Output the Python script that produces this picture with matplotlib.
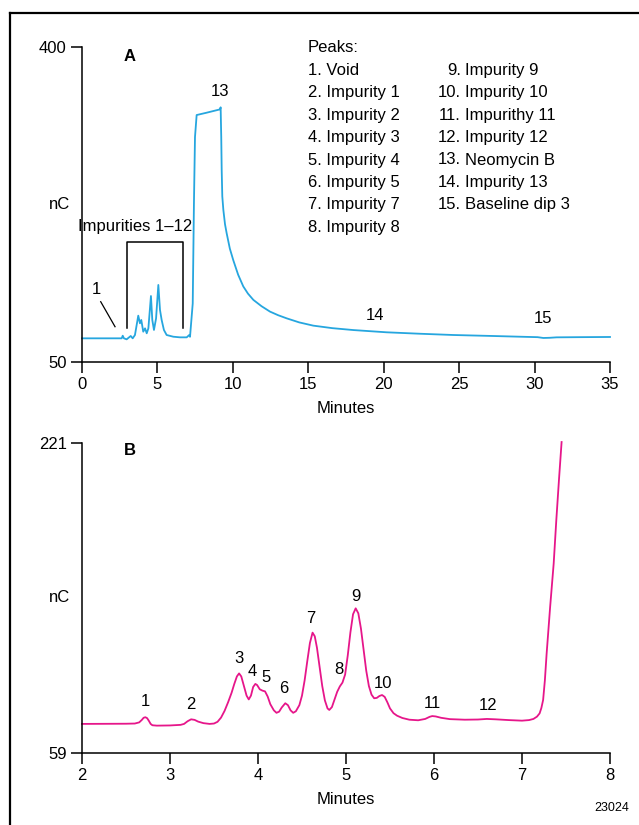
import matplotlib
matplotlib.use("Agg")
import matplotlib.pyplot as plt
from matplotlib.lines import Line2D

plt.rcParams['font.family'] = ['Liberation Sans Narrow', 'Liberation Sans', 'DejaVu Sans']

# ---------------- data: panel A (full run) ----------------
a_time = [0.0, 2.63, 2.70, 2.78, 2.96, 3.23, 3.36, 3.51, 3.73, 3.84, 3.93, 4.06, 4.18, 4.29,
          4.40, 4.57, 4.66, 4.77, 4.91, 5.06, 5.17, 5.28, 5.43, 5.61, 6.05, 6.50, 6.94, 7.11,
          7.16, 7.34, 7.42, 7.49, 7.60, 8.26, 9.15, 9.19, 9.23, 9.26, 9.30, 9.37, 9.48, 9.59,
          9.80, 10.03, 10.35, 10.69, 11.0, 11.36, 11.9, 12.46, 13.0, 13.57, 14.4, 15.33, 16.6,
          17.98, 20.19, 22.4, 24.61, 27.0, 29.03, 30.20, 30.58, 31.00, 31.46, 33.0, 35.0]
a_signal = [76.3, 76.3, 79.2, 76.3, 75.2, 78.9, 76.3, 80.0, 101.5, 93.0, 96.7, 83.7, 87.4, 81.9,
            87.4, 123.3, 96.7, 85.6, 98.5, 135.6, 107.8, 96.7, 85.6, 80.0, 78.1, 77.4, 77.4, 80.0,
            78.0, 115.0, 226.0, 300.0, 324.4, 327.0, 330.7, 333.0, 300.0, 263.0, 234.0, 219.0, 203.0, 193.0,
            176.0, 163.0, 147.0, 134.0, 126.0, 119.0, 112.0, 106.0, 102.0, 98.5, 94.0, 90.4, 87.6,
            85.5, 83.0, 81.4, 80.0, 79.0, 78.1, 77.6, 76.7, 76.9, 77.4, 77.6, 77.8]

# ---------------- data: panel B (expanded 2-8 min) ----------------
b_time = [2.0, 2.5, 2.60, 2.65, 2.68, 2.70, 2.72, 2.74, 2.76, 2.78, 2.80, 2.85, 3.0, 3.12,
          3.16, 3.20, 3.24, 3.28, 3.32, 3.38, 3.45, 3.50, 3.54, 3.58, 3.62, 3.66, 3.70, 3.73,
          3.76, 3.785, 3.81, 3.84, 3.87, 3.895, 3.92, 3.945, 3.97, 3.99, 4.02, 4.05, 4.08, 4.11,
          4.14, 4.18, 4.21, 4.24, 4.27, 4.31, 4.34, 4.37, 4.40, 4.43, 4.47, 4.50, 4.53, 4.56,
          4.59, 4.62, 4.645, 4.67, 4.70, 4.73, 4.76, 4.79, 4.81, 4.84, 4.87, 4.90, 4.93, 4.96,
          4.99, 5.02, 5.05, 5.08, 5.11, 5.14, 5.17, 5.20, 5.23, 5.26, 5.29, 5.32, 5.35, 5.38,
          5.41, 5.44, 5.47, 5.50, 5.54, 5.58, 5.64, 5.72, 5.82, 5.90, 5.95, 5.98, 6.02, 6.08,
          6.18, 6.35, 6.50, 6.60, 6.70, 6.85, 7.00, 7.08, 7.13, 7.17, 7.20, 7.22, 7.24, 7.26,
          7.28, 7.32, 7.36, 7.39, 7.42, 7.45]
b_signal = [74.2, 74.3, 74.4, 75.0, 76.3, 77.4, 77.7, 77.2, 75.8, 74.2, 73.5, 73.3, 73.4, 73.7,
            74.2, 75.6, 76.6, 76.3, 75.4, 74.6, 74.2, 74.4, 75.3, 77.5, 81.0, 85.5, 90.5, 95.0,
            99.0, 100.6, 99.0, 94.0, 89.0, 87.0, 89.0, 93.5, 95.1, 94.5, 92.3, 91.6, 91.2, 88.5,
            84.5, 81.3, 80.0, 80.6, 82.8, 85.0, 84.0, 81.3, 80.0, 80.8, 84.0, 89.0, 97.0, 107.0,
            116.5, 121.9, 120.0, 114.0, 104.0, 94.0, 86.5, 82.3, 81.5, 83.0, 87.0, 91.0, 93.8, 95.8,
            100.0, 110.0, 122.0, 131.5, 134.6, 132.0, 124.0, 113.0, 102.0, 94.0, 89.5, 87.6, 87.8, 88.8,
            89.3, 88.3, 85.5, 82.3, 79.8, 78.5, 77.3, 76.4, 76.1, 76.8, 77.9, 78.3, 78.1, 77.4,
            76.7, 76.4, 76.5, 76.8, 76.6, 76.2, 75.9, 76.2, 76.8, 78.0, 79.7, 82.5, 86.7, 97.0,
            111.0, 135.5, 158.0, 180.8, 201.7, 221.5]

# ---------------- labels ----------------
a_xticks = [0, 5, 10, 15, 20, 25, 30, 35]
a_yticks = [50, 400]
b_xticks = [2, 3, 4, 5, 6, 7, 8]
b_yticks = [59, 221]

a_peak_labels = ["1", "13", "14", "15"]
a_peak_pos = [(0.93, 130), (9.15, 351), (19.42, 102), (30.56, 98)]

b_peak_labels = ["1", "2", "3", "4", "5", "6", "7", "8", "9", "10", "11", "12"]
b_peak_pos = [(2.716, 85.8), (3.239, 84.6), (3.784, 108.5), (3.94, 101.5), (4.09, 98.6),
              (4.295, 92.8), (4.60, 129.4), (4.92, 102.4), (5.11, 140.7), (5.42, 95.4),
              (5.98, 85.1), (6.61, 83.6)]

legend_col1 = ["Peaks:", "1. Void", "2. Impurity 1", "3. Impurity 2", "4. Impurity 3",
               "5. Impurity 4", "6. Impurity 5", "7. Impurity 7", "8. Impurity 8"]
legend_col2_num = ["9.", "10.", "11.", "12.", "13.", "14.", "15."]
legend_col2_name = ["Impurity 9", "Impurity 10", "Impurithy 11", "Impurity 12",
                    "Neomycin B", "Impurity 13", "Baseline dip 3"]

BLUE = '#26a6df'
MAGENTA = '#e6168a'
FS = 12

W, H = 639, 825
fig = plt.figure(figsize=(W / 100, H / 100), dpi=100)


def fx(px):
    return px / W


def fy(py):
    return 1 - py / H


# outer frame (top and left)
fig.add_artist(Line2D([fx(10), 1.0], [fy(12.5), fy(12.5)], color='black', lw=1.6,
                      transform=fig.transFigure))
fig.add_artist(Line2D([fx(10), fx(10)], [fy(12.5), 0.0], color='black', lw=1.6,
                      transform=fig.transFigure))

axA = fig.add_axes([fx(82), fy(362), fx(610) - fx(82), fy(47) - fy(362)])
axB = fig.add_axes([fx(82), fy(753), fx(610) - fx(82), fy(443) - fy(753)])


def style(ax, xt, yt, xlim, ylim):
    ax.set_xlim(*xlim)
    ax.set_ylim(*ylim)
    ax.set_xticks(xt)
    ax.set_yticks(yt)
    ax.set_xticklabels([str(v) for v in xt])
    ax.set_yticklabels([str(v) for v in yt])
    for s in ['top', 'right']:
        ax.spines[s].set_visible(False)
    for s in ['left', 'bottom']:
        ax.spines[s].set_linewidth(1.1)
    ax.tick_params(direction='out', length=8, width=1.1, labelsize=FS, pad=3)
    ax.patch.set_visible(False)
    ax.set_xlabel("Minutes", fontsize=FS, labelpad=6)
    ax.set_ylabel("nC", fontsize=FS, rotation=0, ha='center', va='center')
    ax.yaxis.set_label_coords(-22 / 528, 0.5)


# Panel A
axA.plot(a_time, a_signal, color=BLUE, lw=1.3, clip_on=False)
style(axA, a_xticks, a_yticks, (0, 35), (50, 400))
axA.text(3.18, 389, "A", fontsize=FS, fontweight='bold', ha='center', va='center')
for lab, (x, y) in zip(a_peak_labels, a_peak_pos):
    axA.text(x, y, lab, fontsize=FS, ha='center', va='center')
axA.plot([1.24, 2.19], [117, 89.2], color='black', lw=0.9)
axA.plot([3.0, 3.0, 6.67, 6.67], [87.8, 183.3, 183.3, 87.8], color='black', lw=1.1)
axA.text(3.51, 200, "Impurities 1\u201312", fontsize=FS, ha='center', va='center')

# legend text
y0 = 48
dy = 22.4
for i, t in enumerate(legend_col1):
    fig.text(fx(308), fy(y0 + i * dy), t, fontsize=FS, ha='left', va='center')
for i, (n, t) in enumerate(zip(legend_col2_num, legend_col2_name)):
    fig.text(fx(461), fy(y0 + (i + 1) * dy), n, fontsize=FS, ha='right', va='center')
    fig.text(fx(465), fy(y0 + (i + 1) * dy), t, fontsize=FS, ha='left', va='center')

# Panel B
axB.plot(b_time, b_signal, color=MAGENTA, lw=1.3, clip_on=False)
style(axB, b_xticks, b_yticks, (2, 8), (59, 221))
axB.text(2.545, 217, "B", fontsize=FS, fontweight='bold', ha='center', va='center')
for lab, (x, y) in zip(b_peak_labels, b_peak_pos):
    axB.text(x, y, lab, fontsize=FS, ha='center', va='center')

fig.text(fx(612), fy(808), "23024", fontsize=9, ha='center', va='center')

fig.savefig("out.png", dpi=100)
